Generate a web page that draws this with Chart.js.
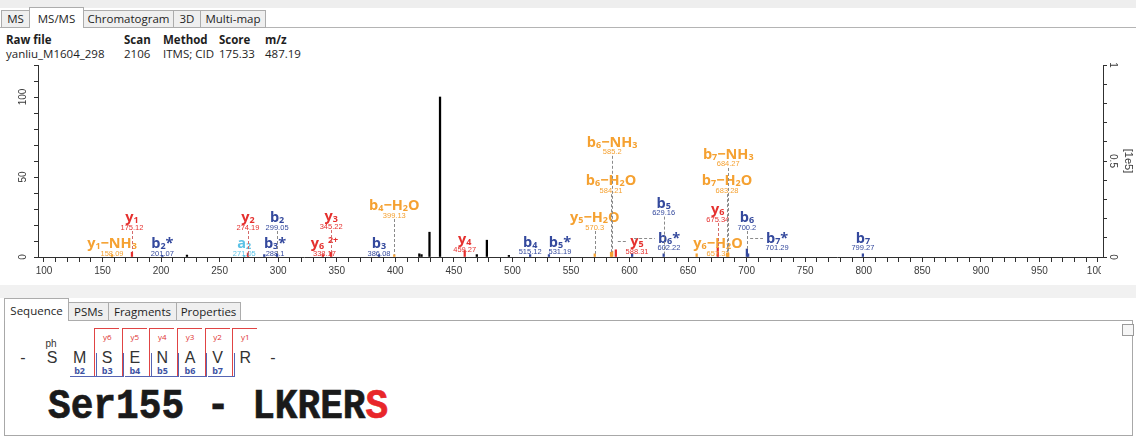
<!DOCTYPE html>
<html>
<head>
<meta charset="utf-8">
<title>MS/MS spectrum</title>
<script src="https://cdn.jsdelivr.net/npm/chart.js@4.4.1/dist/chart.umd.min.js"></script>
<style>
  html, body { margin:0; padding:0; }
  body { width:1136px; height:438px; position:relative; overflow:hidden; background:#fff;
         font-family:"Open Sans","Noto Sans",sans-serif; color:#1e1e1e; }
  .abs { position:absolute; }
  .tab { position:absolute; box-sizing:border-box; border:1px solid #acacac; background:#efefef;
         font-size:11.5px; text-align:center; color:#1e1e1e; white-space:nowrap; }
  .tab.on { background:#fff; border-bottom:none; z-index:2; }
  .hd { position:absolute; font-size:11.5px; line-height:14px; white-space:nowrap; }
  .hd b { font-weight:700; }
  #ms { position:absolute; left:0; top:0; }
  .res { position:absolute; font-family:"Liberation Sans",Arial,sans-serif; font-size:16px; color:#333;
         width:20px; margin-left:-10px; text-align:center; line-height:16px; }
  .ylab { position:absolute; font-family:"Open Sans",sans-serif; font-size:8px; color:#e03232;
          width:20px; margin-left:-10px; text-align:center; line-height:8px; }
  .blab { position:absolute; font-family:"Open Sans",sans-serif; font-size:9px; font-weight:700; color:#3d52a3;
          width:20px; margin-left:-10px; text-align:center; line-height:9px; }
  .rl { position:absolute; background:#e04444; }
  .bl { position:absolute; background:#5565b3; }
  #site { position:absolute; left:48px; top:389px; font-family:"Liberation Mono","Courier New",monospace;
          font-weight:700; font-size:37.8px; line-height:38px; color:#1a1a1a; white-space:pre;
          -webkit-text-stroke:0.6px #1a1a1a; transform:scaleY(1.12); transform-origin:0 29px; }
  #site span { color:#e8262a; -webkit-text-stroke:0.6px #e8262a; }
</style>
</head>
<body>
<div class="abs" style="left:0;top:0;width:1136px;height:8px;background:#eeeeee"></div>
<div class="abs" style="left:0;top:27px;width:1136px;height:1px;background:#b4b4b4"></div>
<div class="tab" style="left:1px;top:10px;width:29px;height:18px;line-height:16px">MS</div>
<div class="tab on" style="left:29px;top:7px;width:55px;height:21px;line-height:21px">MS/MS</div>
<div class="tab" style="left:83px;top:10px;width:91px;height:18px;line-height:16px">Chromatogram</div>
<div class="tab" style="left:173px;top:10px;width:28px;height:18px;line-height:16px">3D</div>
<div class="tab" style="left:200px;top:10px;width:66px;height:18px;line-height:16px">Multi-map</div>

<div class="hd" style="left:6px;top:33px"><b>Raw file</b></div>
<div class="hd" style="left:124px;top:33px"><b>Scan</b></div>
<div class="hd" style="left:163px;top:33px"><b>Method</b></div>
<div class="hd" style="left:219px;top:33px"><b>Score</b></div>
<div class="hd" style="left:265px;top:33px"><b>m/z</b></div>
<div class="hd" style="left:6px;top:47px">yanliu_M1604_298</div>
<div class="hd" style="left:124px;top:47px">2106</div>
<div class="hd" style="left:163px;top:47px">ITMS; CID</div>
<div class="hd" style="left:219px;top:47px">175.33</div>
<div class="hd" style="left:265px;top:47px">487.19</div>

<canvas id="ms" width="1136" height="290"></canvas>

<div class="abs" style="left:0;top:285px;width:1136px;height:13px;background:#f1f1f1"></div>
<div class="abs" style="left:4px;top:320px;width:1129px;height:116px;box-sizing:border-box;border:1px solid #a8a8a8;background:#fff"></div>
<div class="tab on" style="left:4px;top:298px;width:65px;height:23px;line-height:23px">Sequence</div>
<div class="tab" style="left:68px;top:302px;width:41px;height:19px;line-height:17px">PSMs</div>
<div class="tab" style="left:108px;top:302px;width:69px;height:19px;line-height:17px">Fragments</div>
<div class="tab" style="left:176px;top:302px;width:65px;height:19px;line-height:17px">Properties</div>
<div class="abs" style="left:1122px;top:324px;width:12px;height:12px;box-sizing:border-box;border:1px solid #9a9a9a;background:#f6f6f6"></div>

<div id="seq"></div>
<div id="site">Ser155 - LKRER<span>S</span></div>

<script>
// ---- peptide S(ph)MSENAVR, precursor m/z 487.19 ----

// peaks without an assignment (m/z, relative intensity %)
const otherMz  = [222.1, 420.5, 422.4, 429.19, 438.19, 469.6, 478.19, 497.0];
const otherInt = [1.2,   2.0,   1.5,   15.5,   100,    1.5,   10.5,   1.0];

// assigned fragment ions
const ionNames = ['y_1−NH_3', 'y_1', 'b_2*', 'a_2', 'y_2', 'b_3*', 'b_2', 'y_6 ^2+', 'y_3', 'b_3',
                  'b_4−H_2O', 'y_4', 'b_4', 'b_5*', 'y_5−H_2O', 'b_6−H_2O', 'b_6−NH_3', 'y_5', 'b_6*', 'b_5',
                  'y_6−H_2O', 'y_6', 'b_7−H_2O', 'b_7−NH_3', 'b_6', 'b_7*', 'b_7'];
const ionMz    = [158.09, 175.12, 201.07, 271.05, 274.19, 288.1, 299.05, 338.17, 345.22, 386.08,
                  399.13, 459.27, 515.12, 531.19, 570.3, 584.21, 585.2, 588.31, 602.22, 629.16,
                  657.33, 675.34, 683.28, 684.27, 700.2, 701.29, 799.27];
const ionInt   = [1.5, 3, 1, 1, 2.5, 1.5, 2, 1.5, 3, 1.5,
                  1.5, 4, 1.5, 1.5, 2, 3, 3.5, 4.5, 2, 2,
                  2, 6, 2.5, 2.5, 5, 2, 2];
const ionKind  = ['loss', 'y', 'b', 'a', 'y', 'b', 'b', 'y', 'y', 'b',
                  'loss', 'y', 'b', 'b', 'loss', 'loss', 'loss', 'y', 'b', 'b',
                  'loss', 'y', 'loss', 'loss', 'b', 'b', 'b'];
// where each ion label is anchored (m/z, intensity %)
const labelMz    = [158.09, 175.12, 201.07, 271.05, 274.19, 297.3, 299.05, 339.5, 345.22, 386.08,
                    399.13, 459.27, 515.12, 540.6, 570.3, 584.21, 585.2, 606.4, 633.7, 629.16,
                    675.6, 675.34, 683.28, 684.27, 700.2, 726.0, 799.27];
const labelLevel = [8.75, 25, 8.75, 8.75, 25, 8.75, 25, 8.75, 25.6, 8.75,
                    32.5, 11.25, 9.4, 9.4, 25, 48, 72, 10, 12, 34,
                    8.75, 30, 48, 64.4, 25, 12, 12];

// axis labels
const xTickLabels     = [100, 150, 200, 250, 300, 350, 400, 450, 500, 550, 600, 650, 700, 750, 800, 850, 900, 950, 1000];
const leftTickLabels  = [0, 50, 100];
const rightTickLabels = [0, 0.5, 1];
const rightUnit = '[1e5]';

const ionColor  = { b: '#34499d', y: '#e5302e', a: '#5cc2e6', loss: '#f5a131' };
const dashColor = { b: '#8a8a8a', y: '#d46a6a', a: '#8a8a8a', loss: '#8a8a8a' };

function steps(from, to, step, digits) {
  const out = [];
  for (let v = from; v <= to + step / 2; v += step) out.push({ value: +v.toFixed(digits) });
  return out;
}

// split "b_4−H_2O" into plain / subscript / superscript runs
function runs(label) {
  const out = [];
  let i = 0;
  while (i < label.length) {
    const c = label[i];
    if (c === '_') {
      let j = i + 1;
      while (j < label.length && /\d/.test(label[j])) j++;
      out.push({ t: label.slice(i + 1, j), k: 'sub' });
      i = j;
    } else if (c === '^') {
      out.push({ t: label.slice(i + 1), k: 'sup' });
      i = label.length;
    } else {
      let j = i;
      while (j < label.length && label[j] !== '_' && label[j] !== '^') j++;
      out.push({ t: label.slice(i, j), k: 'main' });
      i = j;
    }
  }
  return out;
}
const runFont = {
  main: '700 14.5px "Open Sans", "Noto Sans", sans-serif',
  sub:  '700 9px "Open Sans", "Noto Sans", sans-serif',
  sup:  '700 9px "Open Sans", "Noto Sans", sans-serif'
};

function dashed(ctx, x1, y1, x2, y2, color) {
  ctx.save();
  ctx.strokeStyle = color;
  ctx.lineWidth = 1;
  ctx.setLineDash([3, 2]);
  ctx.beginPath();
  ctx.moveTo(x1, y1);
  ctx.lineTo(x2, y2);
  ctx.stroke();
  ctx.restore();
}

const spectrumText = {
  id: 'spectrumText',
  afterDatasetsDraw(chart) {
    const { ctx } = chart;
    const x = chart.scales.x, y = chart.scales.y, y2 = chart.scales.y2;
    ctx.save();
    ctx.fillStyle = '#3a3a3a';
    ctx.font = '10px "Liberation Sans", Arial, sans-serif';
    ctx.textAlign = 'center';
    ctx.textBaseline = 'middle';

    // m/z labels, cut off where the right axis begins
    ctx.save();
    ctx.beginPath();
    ctx.rect(0, 0, x.right - 2, chart.height);
    ctx.clip();
    xTickLabels.forEach(v => ctx.fillText(String(v), x.getPixelForValue(v), x.top + 14));
    ctx.restore();

    leftTickLabels.forEach(v => {
      ctx.save();
      ctx.translate(y.left + 23, y.getPixelForValue(v));
      ctx.rotate(-Math.PI / 2);
      ctx.fillText(String(v), 0, 0);
      ctx.restore();
    });
    rightTickLabels.forEach(v => {
      ctx.save();
      ctx.translate(y2.left + 10, y2.getPixelForValue(v));
      ctx.rotate(Math.PI / 2);
      ctx.fillText(String(v), 0, 0);
      ctx.restore();
    });
    ctx.save();
    ctx.translate(y2.left + 25, (y2.top + y2.bottom) / 2);
    ctx.rotate(Math.PI / 2);
    ctx.font = '11px "Liberation Sans", Arial, sans-serif';
    ctx.fillText(rightUnit, 0, 0);
    ctx.restore();

    // fragment ion annotations
    ionNames.forEach((name, i) => {
      const kind = ionKind[i];
      const color = ionColor[kind];
      const px = x.getPixelForValue(ionMz[i]);
      const top = y.getPixelForValue(ionInt[i]);
      const lx = x.getPixelForValue(labelMz[i]);
      const ly = y.getPixelForValue(labelLevel[i]);

      const parts = runs(name);
      let w = 0;
      parts.forEach(p => { ctx.font = runFont[p.k]; p.w = ctx.measureText(p.t).width; w += p.w; });

      const bottom = ly + 14;
      if (Math.abs(lx - px) < 6) {
        if (top > bottom + 2) dashed(ctx, Math.round(px) + 0.5, bottom, Math.round(px) + 0.5, top, dashColor[kind]);
      } else {
        const x0 = px + 2, x1 = lx - w / 2 - 3;
        if (x1 - x0 > 4) dashed(ctx, x0, Math.round(ly) + 0.5, x1, Math.round(ly) + 0.5, '#8a8a8a');
      }

      ctx.fillStyle = color;
      ctx.textAlign = 'left';
      ctx.textBaseline = 'alphabetic';
      let cx = lx - w / 2;
      const base = ly + 5;
      parts.forEach(p => {
        ctx.font = runFont[p.k];
        const dy = p.k === 'sub' ? 1 : p.k === 'sup' ? -5 : 0;
        ctx.fillText(p.t, cx, base + dy);
        cx += p.w;
      });
      ctx.font = '7.5px "Liberation Sans", Arial, sans-serif';
      ctx.textAlign = 'center';
      ctx.fillText(String(ionMz[i]), lx, ly + 12.5);
    });
    ctx.restore();
  }
};

const axisLine = '#303030';
new Chart(document.getElementById('ms'), {
  type: 'bar',
  data: {
    datasets: [
      {
        label: 'assigned',
        data: ionMz.map((m, i) => ({ x: m, y: ionInt[i] })),
        backgroundColor: ionKind.map(k => ionColor[k]),
        barThickness: 1.6,
        grouped: false
      },
      {
        label: 'unassigned',
        data: otherMz.map((m, i) => ({ x: m, y: otherInt[i] })),
        backgroundColor: '#000000',
        barThickness: 1.6,
        grouped: false
      }
    ]
  },
  options: {
    responsive: false,
    animation: false,
    devicePixelRatio: 1,
    layout: { padding: { top: 65, left: 0, right: 0, bottom: 0 } },
    plugins: { legend: { display: false }, tooltip: { enabled: false } },
    scales: {
      x: {
        type: 'linear', min: 94.9, max: 1004.3, offset: false,
        afterBuildTicks: s => { s.ticks = steps(100, 1000, 10, 0); },
        ticks: { callback: () => '', font: { size: 1 } },
        grid: { drawOnChartArea: false, offset: false, tickLength: 5, color: axisLine },
        border: { color: axisLine },
        afterFit: s => { s.height = 33; }
      },
      y: {
        position: 'left', min: 0, max: 120,
        afterBuildTicks: s => { s.ticks = steps(0, 120, 10, 0); },
        ticks: { callback: () => '', font: { size: 1 } },
        grid: { drawOnChartArea: false, tickLength: 4, color: axisLine },
        border: { color: axisLine },
        afterFit: s => { s.width = 38; }
      },
      y2: {
        position: 'right', min: 0, max: 1,
        afterBuildTicks: s => { s.ticks = steps(0, 1, 0.1, 1); },
        ticks: { callback: () => '', font: { size: 1 } },
        grid: { drawOnChartArea: false, tickLength: 4, color: axisLine },
        border: { color: axisLine },
        afterFit: s => { s.width = 33; }
      }
    }
  },
  plugins: [spectrumText]
});

// ---- sequence coverage map ----
const residues  = ['S', 'M', 'S', 'E', 'N', 'A', 'V', 'R'];
const modified  = ['ph', '', '', '', '', '', '', ''];
const yCoverage = [0, 0, 6, 5, 4, 3, 2, 1];   // y ion observed on each residue
const bCoverage = [0, 2, 3, 4, 5, 6, 7, 0];   // b ion observed on each residue

const seq = document.getElementById('seq');
function add(cls, style, text) {
  const d = document.createElement('div');
  d.className = cls;
  d.setAttribute('style', style);
  if (text !== undefined) d.textContent = text;
  seq.appendChild(d);
}
const pitch = 27.6, first = 52;
add('res', 'left:23px;top:350px', '-');
add('res', `left:${first + pitch * residues.length}px;top:350px`, '-');
residues.forEach((r, i) => {
  const cx = first + pitch * i;
  add('res', `left:${cx}px;top:350px`, r);
  if (modified[i]) add('res', `left:${cx - 1}px;top:339px;font-size:10px;line-height:10px`, modified[i]);
  if (yCoverage[i]) {
    const lx = Math.round(cx - 13);
    add('rl', `left:${lx}px;top:328px;width:25px;height:1px`);
    add('rl', `left:${lx}px;top:328px;width:1px;height:48px`);
    add('ylab', `left:${cx}px;top:333px`, 'y' + yCoverage[i]);
  }
  if (bCoverage[i]) {
    const rx = Math.round(cx + 16);
    const lx = i === 1 ? 70 : rx - 26;
    add('bl', `left:${lx}px;top:376px;width:${rx - lx + 1}px;height:1px`);
    add('bl', `left:${rx}px;top:353px;width:1px;height:24px`);
    add('blab', `left:${cx}px;top:366px`, 'b' + bCoverage[i]);
  }
});
</script>
</body>
</html>
